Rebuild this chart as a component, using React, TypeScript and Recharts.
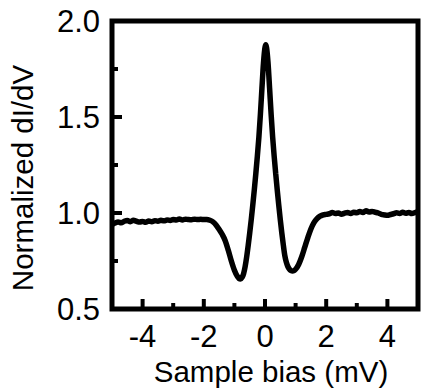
import React from 'react';
import { LineChart, Line, XAxis, YAxis, ReferenceArea, Label } from 'recharts';

// sample bias (mV) and normalized dI/dV
const bias = [
  -5.0, -4.9, -4.8, -4.7, -4.6, -4.5, -4.4, -4.3, -4.2, -4.1,
  -4.0, -3.9, -3.8, -3.7, -3.6, -3.5, -3.4, -3.3, -3.2, -3.1,
  -3.0, -2.9, -2.8, -2.7, -2.6, -2.5, -2.4, -2.3, -2.2, -2.1,
  -2.0, -1.9, -1.8, -1.7, -1.6, -1.5, -1.4, -1.3, -1.2, -1.1,
  -1.0, -0.9, -0.85, -0.8, -0.75, -0.7, -0.65, -0.6, -0.55, -0.5,
  -0.45, -0.4, -0.35, -0.3, -0.25, -0.2, -0.15, -0.1, -0.05, 0.0,
  0.025, 0.05, 0.1, 0.15, 0.2, 0.25, 0.3, 0.35, 0.4, 0.45,
  0.5, 0.55, 0.6, 0.65, 0.7, 0.75, 0.8, 0.85, 0.9, 0.95,
  1.0, 1.1, 1.2, 1.3, 1.4, 1.5, 1.6, 1.7, 1.8, 1.9,
  2.0, 2.1, 2.2, 2.3, 2.4, 2.5, 2.6, 2.7, 2.8, 2.9,
  3.0, 3.1, 3.2, 3.3, 3.4, 3.5, 3.6, 3.7, 3.8, 3.9,
  4.0, 4.1, 4.2, 4.3, 4.4, 4.5, 4.6, 4.7, 4.8, 4.9, 5.0,
];

const didv = [
  0.940, 0.948, 0.953, 0.949, 0.957, 0.961, 0.955, 0.962, 0.957, 0.953,
  0.956, 0.952, 0.958, 0.955, 0.960, 0.957, 0.962, 0.959, 0.964, 0.961,
  0.966, 0.964, 0.969, 0.964, 0.968, 0.966, 0.965, 0.968, 0.966, 0.967,
  0.966, 0.966, 0.962, 0.954, 0.938, 0.915, 0.889, 0.856, 0.806, 0.750,
  0.702, 0.669, 0.659, 0.656, 0.664, 0.684, 0.720, 0.770, 0.830, 0.895,
  0.965, 1.040, 1.120, 1.205, 1.295, 1.395, 1.515, 1.650, 1.780, 1.862,
  1.876, 1.862, 1.780, 1.650, 1.515, 1.395, 1.295, 1.205, 1.120, 1.040,
  0.965, 0.895, 0.832, 0.776, 0.742, 0.720, 0.707, 0.700, 0.698, 0.700,
  0.707, 0.732, 0.772, 0.822, 0.872, 0.917, 0.950, 0.971, 0.984, 0.990,
  0.993, 0.996, 1.002, 0.998, 1.000, 0.994, 0.999, 1.003, 0.998, 1.004,
  1.001, 1.008, 1.003, 1.012, 1.005, 1.008, 1.004, 1.000, 0.993, 0.990,
  0.988, 0.992, 0.996, 1.001, 0.998, 1.004, 0.999, 1.003, 0.997, 1.002, 1.005,
];

const xTicks = [-4, -3, -2, -1, 0, 1, 2, 3, 4];
const xLabelled = [-4, -2, 0, 2, 4];
const yTicks = [0.5, 0.75, 1.0, 1.25, 1.5, 1.75, 2.0];
const yLabelled = [0.5, 1.0, 1.5, 2.0];

const data = bias.map((b, i) => ({ bias: b, didv: didv[i] }));

const FONT = '"Liberation Sans", Arial, sans-serif';

const XTick = (props: any) => {
  const { x, y, payload } = props;
  const major = xLabelled.includes(payload.value);
  return (
    <g>
      <line x1={x} x2={x} y1={y} y2={y - (major ? 10 : 6)} stroke="#000" strokeWidth={4} />
      {major && (
        <text x={x} y={y + 38} textAnchor="middle" fontSize={31} fontFamily={FONT} fill="#000">
          {payload.value}
        </text>
      )}
    </g>
  );
};

const YTick = (props: any) => {
  const { x, y, payload } = props;
  const major = yLabelled.includes(payload.value);
  return (
    <g>
      <line x1={x} x2={x + (major ? 10 : 6)} y1={y} y2={y} stroke="#000" strokeWidth={4} />
      {major && (
        <text x={x - 12} y={y + 11} textAnchor="end" fontSize={31} fontFamily={FONT} fill="#000">
          {payload.value.toFixed(1)}
        </text>
      )}
    </g>
  );
};

export default function App() {
  return (
    <div style={{ position: 'absolute', left: 0, top: 0, width: 427, height: 388, background: '#fff' }}>
      <LineChart width={427} height={388} data={data} margin={{ top: 21, right: 9, bottom: 0, left: 0 }}>
        <XAxis
          dataKey="bias"
          type="number"
          domain={[-5, 5]}
          ticks={xTicks}
          interval={0}
          height={79}
          tickSize={0}
          tickMargin={0}
          axisLine={false}
          tick={<XTick />}
          allowDataOverflow
        >
          <Label
            content={() => (
              <text x={271} y={382} textAnchor="middle" fontSize={29.5} fontFamily={FONT} fill="#000">
                Sample bias (mV)
              </text>
            )}
          />
        </XAxis>
        <YAxis
          type="number"
          domain={[0.5, 2]}
          ticks={yTicks}
          interval={0}
          width={112}
          tickSize={0}
          tickMargin={0}
          axisLine={false}
          tick={<YTick />}
          allowDataOverflow
        >
          <Label
            content={() => (
              <text
                transform="translate(33,178) rotate(-90)"
                textAnchor="middle"
                fontSize={29.5}
                fontFamily={FONT}
                fill="#000"
              >
                Normalized dI/dV
              </text>
            )}
          />
        </YAxis>
        <ReferenceArea
          x1={-5}
          x2={5}
          y1={0.5}
          y2={2}
          fill="none"
          fillOpacity={0}
          stroke="#000"
          strokeWidth={5}
          ifOverflow="visible"
        />
        <Line
          type="monotone"
          dataKey="didv"
          stroke="#000"
          strokeWidth={5.5}
          dot={false}
          isAnimationActive={false}
        />
      </LineChart>
    </div>
  );
}
